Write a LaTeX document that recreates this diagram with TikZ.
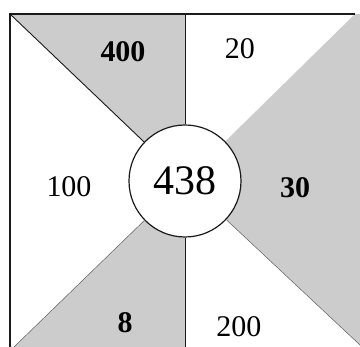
\documentclass[tikz,border=0pt]{standalone}
\usepackage{fontspec}
\setmainfont{Liberation Serif}
\usepackage{tikz}
\usetikzlibrary{positioning}
\definecolor{shade}{HTML}{CCCCCC}
\definecolor{edge}{HTML}{1A1A1A}
\tikzset{
  frame/.style={draw=edge,line width=1.3pt},
  divider/.style={draw=edge,line width=0.9pt},
  faint/.style={draw=edge!70,line width=0.5pt},
  sector/.style={fill=shade,draw=none},
  hubnode/.style={circle,draw=edge,line width=1.2pt,fill=white,minimum size=112pt,
    inner sep=0pt,font=\fontsize{42}{48}\selectfont},
  num/.style={inner sep=0pt,font=\fontsize{30}{36}\selectfont},
  numb/.style={num,font=\fontsize{30}{36}\selectfont\bfseries},
}
\begin{document}
\begin{tikzpicture}[x=1pt,y=-1pt]
  \useasboundingbox (0,0) rectangle (360,347);
  % corners of the square
  \coordinate (tl) at (10,14);
  \coordinate (tm) at (185,14);
  \coordinate (tr) at (355,14);
  \coordinate (bl) at (14,347);
  \coordinate (bm) at (185,347);
  \coordinate (br) at (360,345);
  \coordinate (c)  at (185,181);
  % shaded sectors
  \fill[sector] (tl) -- (tm) -- (c) -- cycle;
  \fill[sector] (tr) -- (360,14) -- (360,347) -- (br) -- (c) -- cycle;
  \fill[sector] (bl) -- (c) -- (bm) -- cycle;
  \node[hubnode] (hub) at (c) {438};
  \draw[frame] (tr) -- (tl) -- (10,347);
  \draw[divider] (tm) -- (hub.north);
  \draw[divider] (hub.south) -- (bm);
  \draw[divider] (tl) -- (hub);
  \draw[faint] (hub) -- (bl);
  \draw[faint] (hub) -- (br);
  % values
  \node[numb] (n400) at (123,52)  {400};
  \node[num]  (n20)  at (240,49)  {20};
  \node[num]  (n100) at (69,187)  {100};
  \node[numb] (n30)  at (295,188) {30};
  \node[numb] (n8)   at (125,323) {8};
  \node[num]  (n200) at (239,327) {200};
\end{tikzpicture}
\end{document}
